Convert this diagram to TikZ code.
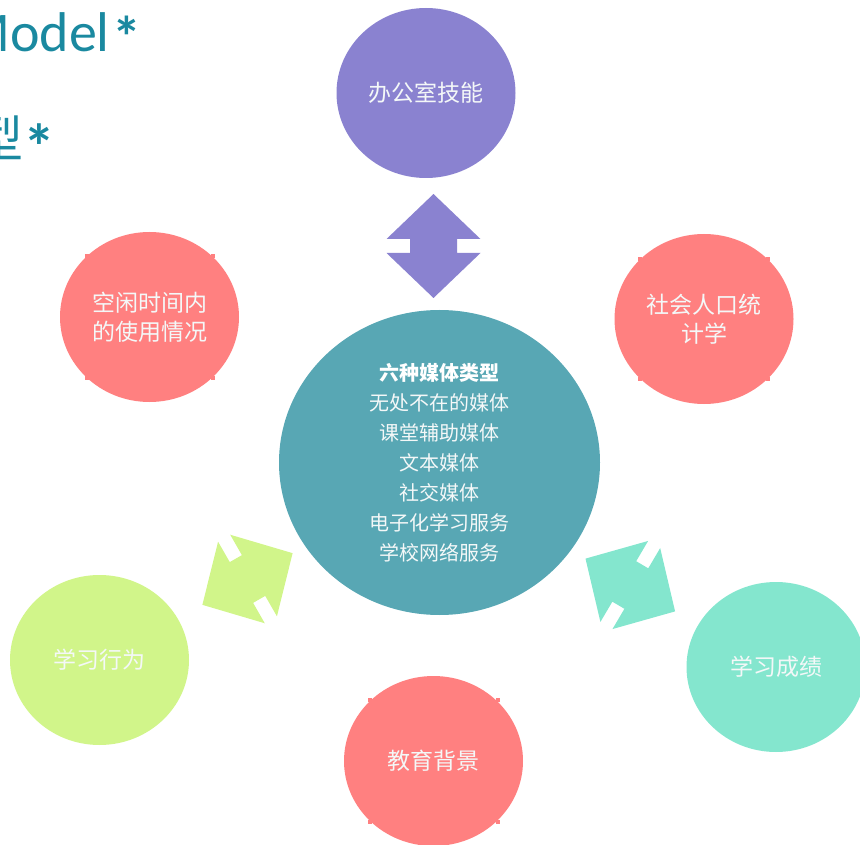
\documentclass[tikz,border=0pt]{standalone}
\usepackage{fontspec}
\setmainfont{Carlito}
\newfontfamily\cjk{Noto Sans CJK SC}
\usetikzlibrary{shapes.geometric}
\definecolor{cPurple}{HTML}{8A82D0}
\definecolor{cPink}{HTML}{FF8080}
\definecolor{cTeal}{HTML}{58A7B4}
\definecolor{cGreen}{HTML}{D1F58A}
\definecolor{cMint}{HTML}{84E6CE}
\definecolor{cTitle}{HTML}{1A89A0}
\definecolor{cText}{HTML}{F4F8F8}
\tikzset{
  bubble/.style={ellipse, inner sep=0pt, minimum width=179pt, minimum height=170pt,
    text=cText, align=center, font=\cjk\fontsize{23}{29}\selectfont},
  corner/.style={fill=cPink, minimum size=4pt, inner sep=0pt, rectangle},
  title/.style={inner sep=0pt, text=cTitle},
  dblarrow/.pic={
    \path[pic actions] (0,-52) -- (47,-7) -- (23.5,-7) -- (23.5,7) -- (47,7) -- (0,52)
      -- (-47,7) -- (-23.5,7) -- (-23.5,-7) -- (-47,-7) -- cycle;
  }
}
\begin{document}
\begin{tikzpicture}[x=1pt,y=-1pt]
\useasboundingbox (0,0) rectangle (860,845);
% title fragments
\node[title, anchor=base east, font=\fontsize{56}{60}\selectfont] (t1) at (110,52) {Model};
\node[title, anchor=north, font=\bfseries\fontsize{58}{58}\selectfont] (t1s) at (127,16) {*};
\node[title, anchor=base east, font=\cjk\fontsize{50}{56}\selectfont] (t2) at (24,158) {模型};
\node[title, anchor=north, font=\bfseries\fontsize{64}{64}\selectfont] (t2s) at (39.5,124) {*};
% corner marks (behind pink bubbles)
\foreach \cx/\cy/\dx/\dy/\nm in {149.5/317/63/61/l, 704/319/64/60/r, 433.5/761/64/61/b}{
  \node[corner] (\nm1) at (\cx-\dx,\cy-\dy) {};
  \node[corner] (\nm2) at (\cx+\dx,\cy-\dy) {};
  \node[corner] (\nm3) at (\cx-\dx,\cy+\dy) {};
  \node[corner] (\nm4) at (\cx+\dx,\cy+\dy) {};
}
% bubbles
\node[bubble, fill=cPurple] (office) at (426,93) {办公室技能};
\node[bubble, fill=cPink] (leisure) at (149.5,317) {空闲时间内\\的使用情况};
\node[bubble, fill=cPink] (demo) at (704,319) {社会人口统\\计学};
\node[bubble, fill=cGreen] (behav) at (99.5,660) {学习行为};
\node[bubble, fill=cPink] (edu) at (433.5,761) {教育背景};
\node[bubble, fill=cMint] (perf) at (776,667) {学习成绩};
\node[ellipse, inner sep=0pt, minimum width=321pt, minimum height=305pt, fill=cTeal,
  text=cText, align=center, font=\cjk\fontsize{20}{30}\selectfont] (media) at (439.5,462.5)
  {\textbf{\color{white}六种媒体类型}\\无处不在的媒体\\课堂辅助媒体\\文本媒体\\社交媒体\\电子化学习服务\\学校网络服务};
% double arrows
\pic[fill=cPurple] (a1) at (433.5,246) {dblarrow};
\pic[fill=cGreen, rotate=-60.2] (a2) at (247.5,579) {dblarrow};
\pic[fill=cMint, rotate=59.5] (a3) at (630.3,585) {dblarrow};
\end{tikzpicture}
\end{document}
